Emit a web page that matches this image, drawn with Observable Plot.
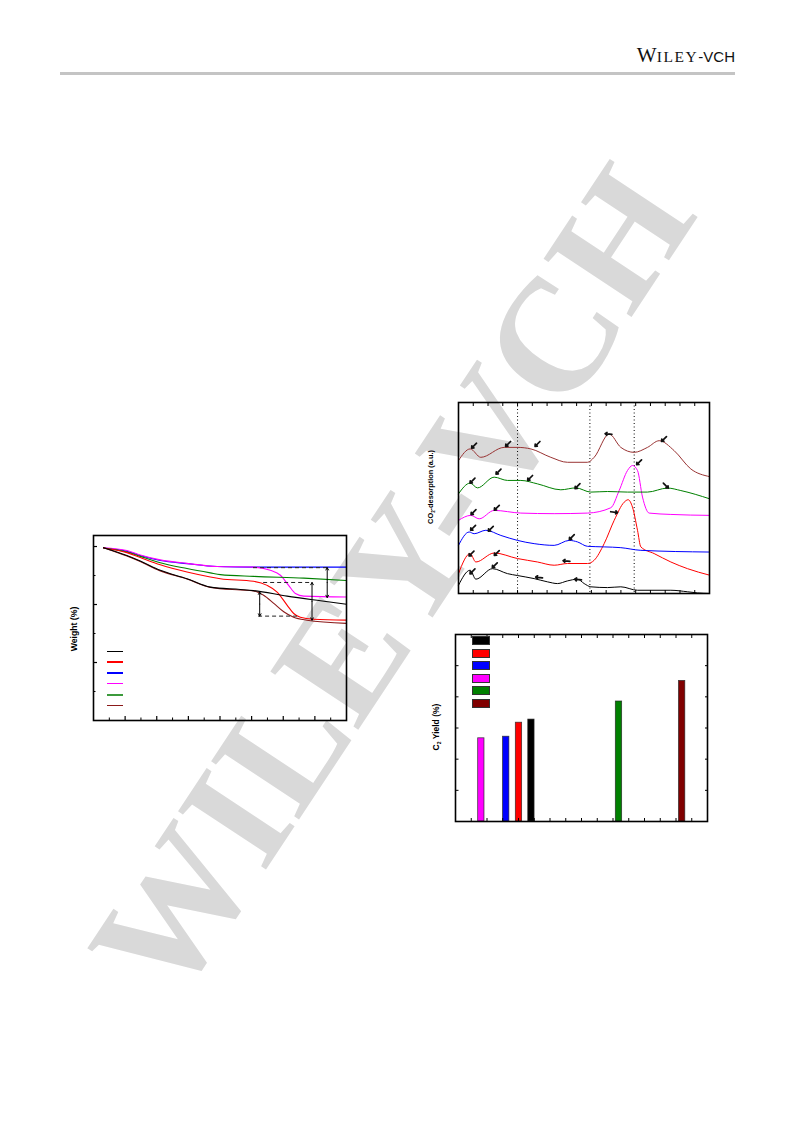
<!DOCTYPE html>
<html><head><meta charset="utf-8">
<script src="https://cdn.jsdelivr.net/npm/d3@7"></script>
<script src="https://cdn.jsdelivr.net/npm/@observablehq/plot@0.6"></script>
<style>
html,body{margin:0;padding:0;background:#fff}
body{width:793px;height:1121px;position:relative;overflow:hidden;font-family:"Liberation Sans",Arial,sans-serif}
.abs{position:absolute}
.ylab{position:absolute;transform:translate(-50%,-50%) rotate(-90deg);white-space:nowrap;font-weight:bold;color:#000;line-height:1}
.ylab sub{font-size:60%;vertical-align:-0.35em;line-height:0}
#wm{position:absolute;left:392px;top:582px;transform:translate(-50%,-50%) rotate(-56.5deg);font-family:"Liberation Serif","Times New Roman",serif;font-weight:bold;font-size:161px;color:#d9d9d9;white-space:nowrap;line-height:1;z-index:0}
.chart{position:absolute;z-index:1}
.sw{position:absolute;z-index:2}
</style></head><body>
<div id="wm">WILEY-VCH</div>
<div class="abs" style="right:58px;top:46px;line-height:18px;white-space:nowrap;color:#111"><span style="font-family:'Liberation Serif',serif;font-size:21px">W</span><span style="font-family:'Liberation Serif',serif;font-size:15.5px;letter-spacing:1.6px">ILEY</span><span style="font-family:'Liberation Sans',sans-serif;font-size:15px">-VCH</span></div>
<div class="abs" style="left:60px;top:72px;width:675px;height:2.5px;background:#c4c4c4"></div>

<div id="tga" class="chart" style="left:63px;top:525px"></div>
<div id="tpd" class="chart" style="left:428px;top:392px"></div>
<div id="bars" class="chart" style="left:425px;top:624px"></div>

<div class="ylab" style="left:74px;top:629px;font-size:8.7px">Weight (%)</div>
<div class="ylab" style="left:431px;top:487px;font-size:7.4px">CO<sub>2</sub>-desorption (a.u.)</div>
<div class="ylab" style="left:436px;top:727px;font-size:8.5px">C<sub>2</sub> Yield (%)</div>

<script>
// ---------- shared sample colours (legend order) ----------
const sampleColors = ["#000000", "#ff0000", "#0000ff", "#ff00ff", "#008000", "#800000"];

// ---------- TGA: temperature (°C) vs weight (%) ----------
const tgaBlack = [[31.7,99.6],[105.6,96.9],[147.8,95.0],[211.1,91.8],[295.6,88.9],[369.4,86.0],[464.4,85.2],[506,84.8],[612,82.9],[717.6,81.3],[800,80.1]];
const tgaRed = [[31.7,99.5],[105.6,97.9],[147.8,96.2],[211.1,93.7],[295.6,91.2],[369.4,89.5],[401,88.9],[506,88.0],[549,86.6],[580.6,84.3],[612,79.8],[633,76.9],[654,75.6],[696,74.9],[800,74.6]];
const tgaBlue = [[31.7,99.5],[105.6,98.4],[147.8,96.9],[211.1,95.2],[295.6,94.1],[390.5,93.1],[506,92.9],[800,92.9]];
const tgaMagenta = [[31.7,99.6],[105.6,98.6],[147.8,97.1],[211.1,95.4],[295.6,94.2],[390.5,93.1],[506,92.9],[559,91.8],[591,90.1],[617,86.6],[638.5,83.8],[665,82.9],[800,82.6]];
const tgaGreen = [[31.7,99.5],[105.6,98.1],[147.8,96.6],[211.1,94.4],[295.6,92.4],[369.4,90.9],[401,90.3],[506,89.7],[665,89.1],[800,88.3]];
const tgaBrown = [[31.7,99.6],[105.6,96.7],[147.8,94.8],[211.1,91.6],[295.6,88.8],[369.4,85.9],[464.4,85.0],[506,84.7],[538,83.2],[570,80.4],[601.5,77.5],[633,75.6],[675,74.6],[800,73.5]];
const tgaDashes = [{W:92.7,T1:506,T2:749},{W:87.6,T1:538,T2:686},{W:76.0,T1:522,T2:645}];
const tgaSpans = [{T:739,W1:92.7,W2:82.4},{T:691,W1:87.6,W2:74.6},{T:525.5,W1:84.3,W2:76.0}];
const tgaXMajor = [100,200,300,400,500,600,700];
const tgaXMinor = [50,150,250,350,450,550,650,750];
const tgaYMajor = [60,80,100];
const tgaYMinor = [50,70,90];

// ---------- TPD: temperature vs CO2 signal (a.u., stacked) ----------
const tpdBlack = [[0,4.3],[39.5,12.2],[58.7,7.5],[115.1,13.0],[165.9,10.4],[199.8,9.4],[256.2,7.8],[301.4,6.1],[335.3,5.2],[369.1,6.6],[403,7.5],[425.6,5.2],[448.1,3.5],[504.6,3.1],[549.7,3.5],[606.2,1.7],[719.1,1.7],[775.5,0.9],[809.4,0.3],[850,0]];
const tpdRed = [[0,10.4],[39.5,20.9],[58.7,16.5],[120.8,21.2],[199.8,18.3],[267.5,16.5],[324,14.8],[369.1,15.7],[436.9,15.7],[459.4,17.4],[493.3,26.1],[527.2,38.3],[561,47.8],[574.5,49.1],[589.2,45.2],[606.2,33.1],[617.5,24.4],[662.6,20.9],[719.1,16.5],[775.5,13.0],[850,9.6]];
const tpdBlue = [[0,25.2],[36.1,32.2],[53.1,31.3],[92.6,33.1],[143.4,30.4],[199.8,27.8],[256.2,26.1],[324,25.2],[374.8,27.8],[403,27.0],[436.9,24.7],[493.3,24.4],[549.7,24.0],[617.5,22.6],[850,21.7]];
const tpdMagenta = [[0,38.3],[41.8,40.9],[70,39.1],[120.8,43.5],[211.1,42.1],[324,41.8],[436.9,42.1],[515.9,44.9],[544.1,53.9],[572.3,64.4],[589.2,67.0],[606.2,64.4],[623.1,50.5],[645.7,42.1],[719.1,41.4],[850,40.9]];
const tpdGreen = [[0,52.2],[39.5,57.8],[64.3,55.3],[120.8,60.9],[165.9,59.2],[211.1,59.2],[267.5,57.4],[346.5,54.3],[397.3,55.3],[448.1,53.1],[504.6,53.4],[572.3,53.1],[640,53.1],[707.8,55.2],[752.9,53.9],[850,49.6]];
const tpdBrown = [[0,69.6],[39.5,75.7],[75.6,71.3],[154.6,76.5],[199.8,76.5],[245,75.7],[312.7,71.3],[369.1,68.7],[436.9,68.7],[459.4,71.3],[510.2,83.5],[549.7,76.5],[594.9,73.9],[640,76.5],[679.6,80.0],[730.3,74.8],[786.8,65.2],[850,61.2]];
const tpdGuides = [200, 445, 595];
const tpdTicks = d3.range(50, 850, 50);
// peak markers: centre (T, v) and pointing direction
const tpdPeaks = [
  {T:52.8,v:77.4,dir:"sw"},{T:168,v:78.3,dir:"sw"},{T:267.5,v:78.3,dir:"sw"},{T:508,v:83.5,dir:"w"},{T:696,v:80.9,dir:"sw"},
  {T:47.4,v:59.1,dir:"sw"},{T:135.5,v:63.8,dir:"sw"},{T:242.5,v:60.5,dir:"sw"},{T:403,v:56.2,dir:"sw"},{T:702,v:56.5,dir:"se"},
  {T:50.8,v:42.6,dir:"sw"},{T:129.7,v:44.9,dir:"sw"},{T:611.6,v:68.7,dir:"sw"},
  {T:49.4,v:34.4,dir:"sw"},{T:109.4,v:33.9,dir:"sw"},{T:383.7,v:29.5,dir:"sw"},
  {T:44,v:20.9,dir:"sw"},{T:129.7,v:21.2,dir:"sw"},{T:365.7,v:17.0,dir:"w"},{T:527,v:42.6,dir:"e"},
  {T:47.4,v:11.6,dir:"sw"},{T:122.9,v:14.8,dir:"sw"},{T:273,v:8.4,dir:"w"},{T:405,v:7.3,dir:"w"}
];

// ---------- C2 yield bars (legend order) ----------
const barX = [48.2, 40.3, 32.2, 16.4, 103.8, 143.9];
const barYield = [32.7, 31.7, 27.2, 26.7, 38.5, 45.1];
const barXTicks = d3.range(10, 160, 10);
const barYTicks = [10, 20, 30, 40, 50];

const baseStyle = {background: "transparent", overflow: "visible"};
const noText = () => "";

// ---------- TGA plot ----------
const tgaSeries = [tgaBlue, tgaMagenta, tgaGreen, tgaRed, tgaBrown, tgaBlack];
const tgaColors = ["#0000ff", "#ff00ff", "#008000", "#ff0000", "#8b1a1a", "#000000"];
const tga = Plot.plot({
  width: 293, height: 205, marginLeft: 30, marginTop: 10, marginRight: 10, marginBottom: 10,
  x: {domain: [0, 800], axis: null}, y: {domain: [40, 103.8], axis: null},
  style: baseStyle,
  marks: [
    ...tgaSeries.map((s, i) => Plot.line(s, {x: d => d[0], y: d => d[1], stroke: tgaColors[i], strokeWidth: 1.1, curve: "monotone-x"})),
    Plot.ruleY(tgaDashes, {y: "W", x1: "T1", x2: "T2", stroke: "#222", strokeWidth: 1, strokeDasharray: "4,3"}),
    Plot.arrow(tgaSpans, {x1: "T", x2: "T", y1: d => (d.W1 + d.W2) / 2, y2: "W1", stroke: "#000", strokeWidth: 1, headLength: 4}),
    Plot.arrow(tgaSpans, {x1: "T", x2: "T", y1: d => (d.W1 + d.W2) / 2, y2: "W2", stroke: "#000", strokeWidth: 1, headLength: 4}),
    Plot.axisX(tgaXMajor, {anchor: "bottom", tickSize: -4, tickFormat: noText, label: null, strokeWidth: 1.2}),
    Plot.axisX(tgaXMinor, {anchor: "bottom", tickSize: -2.5, tickFormat: noText, label: null}),
    Plot.axisY(tgaYMajor, {anchor: "left", tickSize: -4, tickFormat: noText, label: null, strokeWidth: 1.2}),
    Plot.axisY(tgaYMinor, {anchor: "left", tickSize: -2.5, tickFormat: noText, label: null}),
    Plot.frame({stroke: "#000", strokeWidth: 1.6})
  ]
});
document.getElementById("tga").appendChild(tga);

// ---------- TPD plot ----------
const tpdSeries = [tpdBlack, tpdRed, tpdBlue, tpdMagenta, tpdGreen, tpdBrown];
const tpdColors = ["#000000", "#ff0000", "#0000ff", "#ff00ff", "#008000", "#993333"];
const pxT = 850 / 251, pxV = 100 / 191.6; // data units per pixel
const dirVec = {sw: [-0.72, -0.72], w: [-1, 0.12], e: [1, -0.12], se: [0.72, -0.72]};
const tpd = Plot.plot({
  width: 291, height: 211, marginLeft: 30, marginTop: 10, marginRight: 10, marginBottom: 10,
  x: {domain: [0, 850], axis: null}, y: {domain: [0, 100], axis: null},
  style: baseStyle,
  marks: [
    Plot.ruleX(tpdGuides, {stroke: "#000", strokeWidth: 1, strokeDasharray: "1,2.5"}),
    ...tpdSeries.map((s, i) => Plot.line(s, {x: d => d[0], y: d => d[1], stroke: tpdColors[i], strokeWidth: 1, curve: "monotone-x"})),
    Plot.arrow(tpdPeaks, {
      x1: d => d.T - dirVec[d.dir][0] * 3.4 * pxT, y1: d => d.v - dirVec[d.dir][1] * 3.4 * pxV,
      x2: d => d.T + dirVec[d.dir][0] * 3.4 * pxT, y2: d => d.v + dirVec[d.dir][1] * 3.4 * pxV,
      stroke: "#111", strokeWidth: 1.7, headLength: 2.6, headAngle: 80
    }),
    Plot.axisX(tpdTicks, {anchor: "bottom", tickSize: -3, tickFormat: noText, label: null}),
    Plot.axisX(tpdTicks, {anchor: "top", tickSize: -3, tickFormat: noText, label: null}),
    Plot.frame({stroke: "#000", strokeWidth: 1.6})
  ]
});
document.getElementById("tpd").appendChild(tpd);

// ---------- Bar plot ----------
const barData = barX.map((x, i) => ({x, y: barYield[i], c: sampleColors[i]}));
const bars = Plot.plot({
  width: 292, height: 207, marginLeft: 30, marginTop: 10, marginRight: 10, marginBottom: 10,
  x: {domain: [0, 160], axis: null}, y: {domain: [0, 60], axis: null},
  style: baseStyle,
  marks: [
    Plot.rectY(barData, {x1: d => d.x - 2, x2: d => d.x + 2, y1: 0, y2: "y", fill: "c", stroke: "#222", strokeWidth: 0.8, strokeOpacity: 0.8}),
    Plot.axisX(barXTicks, {anchor: "bottom", tickSize: -3, tickFormat: noText, label: null}),
    Plot.axisX(barXTicks, {anchor: "top", tickSize: -3, tickFormat: noText, label: null}),
    Plot.axisY(barYTicks, {anchor: "left", tickSize: -3.5, tickFormat: noText, label: null}),
    Plot.axisY(barYTicks, {anchor: "right", tickSize: -3, tickFormat: noText, label: null}),
    Plot.frame({stroke: "#000", strokeWidth: 1.6})
  ]
});
document.getElementById("bars").appendChild(bars);

// ---------- legends (swatches only, no labels in the source) ----------
const tgaLegendColors = ["#000000", "#ff0000", "#0000ff", "#ff00ff", "#3c9a3c", "#8b1a1a"];
tgaLegendColors.forEach((c, i) => {
  const d = document.createElement("div");
  d.className = "sw";
  d.style.cssText += `left:107px;top:${650.5 + i * 10.9}px;width:16px;height:${i === 4 ? 1.8 : 1.3}px;background:${c}`;
  document.body.appendChild(d);
});
sampleColors.forEach((c, i) => {
  const d = document.createElement("div");
  d.className = "sw";
  d.style.cssText += `left:471.5px;top:${636 + i * 12.6}px;width:16px;height:7px;background:${c};border:0.8px solid #333`;
  document.body.appendChild(d);
});
</script>
</body></html>
